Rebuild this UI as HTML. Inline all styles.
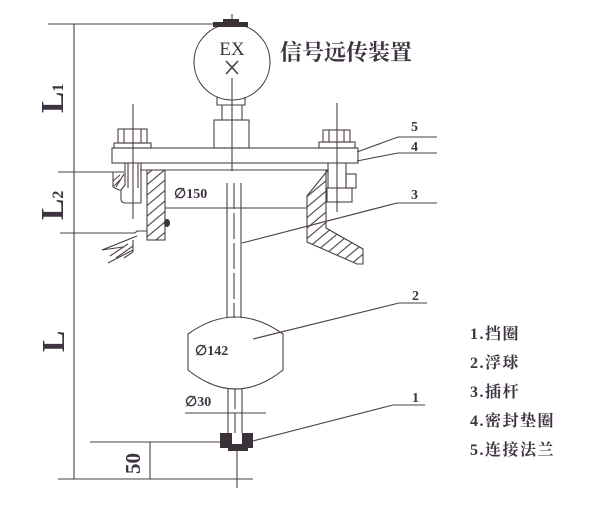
<!DOCTYPE html>
<html><head><meta charset="utf-8"><style>
html,body{margin:0;padding:0;background:#fff;}
svg{display:block;}
text{fill:#3e3340;}
</style></head><body>
<svg width="600" height="505" viewBox="0 0 600 505" xmlns="http://www.w3.org/2000/svg">
<defs>
<pattern id="h" width="8" height="8" patternUnits="userSpaceOnUse" patternTransform="rotate(50)"><line x1="4" y1="0" x2="4" y2="8" stroke="#4b3f47" stroke-width="1.1"/></pattern>
</defs>
<rect width="600" height="505" fill="#fff"/>
<g stroke="#4b3f47" stroke-width="1.1" fill="none">
<!-- dimension / extension lines -->
<line x1="48" y1="24" x2="215" y2="24"/>
<line x1="74" y1="24" x2="74" y2="479"/>
<line x1="58" y1="172" x2="113" y2="172"/>
<polyline points="60,233 135,233 137,231 147,231"/>
<line x1="90" y1="442" x2="220" y2="442"/>
<line x1="150" y1="442" x2="150" y2="479"/>
<line x1="58" y1="479" x2="253" y2="479"/>
<line x1="237" y1="450" x2="237" y2="488"/>

<!-- signal device -->
<line x1="232" y1="14" x2="232" y2="22"/>
<circle cx="232" cy="62" r="38"/>
<line x1="232" y1="78" x2="232" y2="171"/>
<line x1="226" y1="61" x2="238" y2="74" stroke-width="1.6"/>
<line x1="238" y1="61" x2="226" y2="74" stroke-width="1.6"/>
<path d="M217,97 V105 H245 V97"/>
<path d="M222,105 V120 M242,105 V120"/>
<rect x="214" y="120" width="35" height="28"/>

<!-- plate -->
<rect x="112" y="148" width="246" height="15"/>
<line x1="140" y1="170" x2="328" y2="170"/>

<!-- left bolt -->
<line x1="133" y1="104" x2="133" y2="219"/>
<rect x="118" y="129" width="29" height="14"/>
<path d="M124,129 V143 M141,129 V143"/>
<rect x="114" y="143" width="37" height="5"/>
<path d="M128,163 V188 M138,163 V188 M141,163 V203"/>
<path d="M125,163 V185 L121,190 V199 Q121,203 126,203 H141"/>
<path d="M113,172 V187 L119,190 L121,190"/>
<path d="M113,172 H124 M124,174 L116,187"/>
<path d="M113,181 L120,175 M114,186 L121,179"/>

<!-- left wall -->
<rect x="147" y="170" width="18" height="70" fill="url(#h)"/>
<line x1="165" y1="208" x2="307" y2="208"/>

<!-- ground piece -->
<path d="M102,250 L137,236 M102,250 L123,247 M108,263 L133,250 M133,240 V252"/>
<path d="M110,256 L128,244 M116,258 L133,246 M124,258 L133,252"/>

<!-- right bolt -->
<line x1="337" y1="103" x2="337" y2="212"/>
<rect x="323" y="130" width="27" height="12"/>
<path d="M329,130 V142 M344,130 V142"/>
<rect x="319" y="142" width="36" height="6"/>
<path d="M328,163 V188 M346,163 V188"/>
<rect x="346" y="174" width="10" height="14"/>
<rect x="327" y="188" width="25" height="14"/>

<!-- right wall -->
<polygon points="328,170 307,196 307,242 357,264 363,264 363,249 326,228 326,170" fill="url(#h)"/>

<!-- rod -->
<path d="M227,183 V318 M241,183 V318"/>
<line x1="234" y1="183" x2="234" y2="318" stroke-dasharray="26,4"/>
<!-- float -->
<path d="M188,334 Q235.5,300 283,334 V370 Q235.5,408 188,370 Z"/>
<path d="M228,389 V433 M242,389 V433"/>
<line x1="235" y1="389" x2="235" y2="433" stroke-dasharray="20,4"/>
<line x1="185" y1="413" x2="266" y2="413"/>

<!-- leaders -->
<polyline points="357,152 398,137 437,137"/>
<polyline points="357,161 398,153 437,153"/>
<polyline points="242,243 397,203 437,203"/>
<polyline points="253,339 399,303 427,303"/>
<polyline points="253,441 393,405 425,405"/>
</g>
<!-- stop ring -->
<path d="M220,433 H232 V444 H242 V433 H253 V448 H248 V451 H228 V448 H220 Z" fill="#3b3138"/>
<!-- cap -->
<rect x="213" y="22" width="35" height="5" fill="#3b3138"/>
<rect x="223" y="19" width="16" height="4" fill="#3b3138"/>
<!-- weld -->
<ellipse cx="167" cy="223" rx="3" ry="4" fill="#3b3138"/>

<!-- texts -->
<text x="232" y="55" font-family="Liberation Serif, serif" font-size="19" text-anchor="middle">EX</text>
<text x="280" y="60" font-family="'Liberation Serif','Noto Serif CJK SC',serif" font-size="22" font-weight="bold">信号远传装置</text>
<text x="174" y="198" font-family="'Liberation Serif','DejaVu Serif',serif" font-size="14" font-weight="bold">∅150</text>
<text x="195" y="355" font-family="'Liberation Serif','DejaVu Serif',serif" font-size="14" font-weight="bold">∅142</text>
<text x="185" y="406" font-family="'Liberation Serif','DejaVu Serif',serif" font-size="14" font-weight="bold">∅30</text>

<g font-family="'Liberation Serif',serif" font-size="14" font-weight="bold">
<text x="411" y="131">5</text>
<text x="411" y="151">4</text>
<text x="411" y="199">3</text>
<text x="412" y="300">2</text>
<text x="412" y="402">1</text>
</g>

<g font-family="'Liberation Serif',serif" font-weight="bold">
<text transform="translate(63,113) rotate(-90)" font-size="32">L<tspan font-size="16">1</tspan></text>
<text transform="translate(63,220) rotate(-90)" font-size="32">L<tspan font-size="16">2</tspan></text>
<text transform="translate(64,352) rotate(-90)" font-size="32">L</text>
<text transform="translate(140,474) rotate(-90)" font-size="21">50</text>
</g>

<g font-family="'Liberation Serif','Noto Serif CJK SC',serif" font-size="16" font-weight="bold" letter-spacing="1.5">
<text x="470" y="339">1.挡圈</text>
<text x="470" y="368">2.浮球</text>
<text x="470" y="397">3.插杆</text>
<text x="470" y="426">4.密封垫圈</text>
<text x="470" y="455">5.连接法兰</text>
</g>
</svg>
</body></html>
